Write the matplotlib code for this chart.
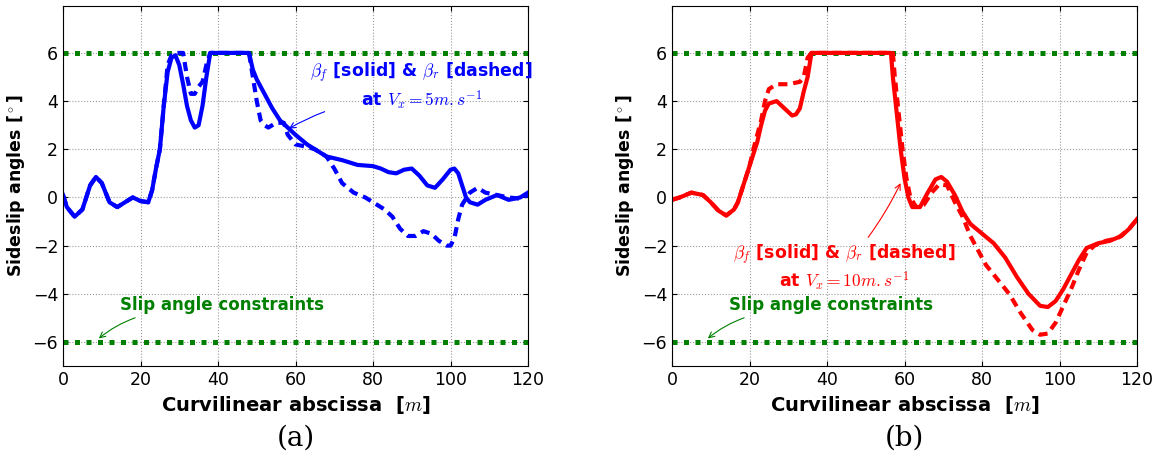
import numpy as np
import matplotlib
matplotlib.use('Agg')
from matplotlib import pyplot as plt

plt.rcParams['mathtext.fontset'] = 'cm'
plt.rcParams['font.family'] = 'DejaVu Sans'

# (a) Vx = 5 m/s
a_xf = [0, 1, 3, 5, 7, 8.5, 10, 12, 14, 16, 18, 20, 22, 23, 24, 25, 26, 27, 28, 29, 30, 31, 32, 33, 34, 35, 36, 37, 38,
        48, 49, 50, 52, 54, 56, 58, 60, 63, 66, 68, 72, 76, 80, 82, 84, 86, 88, 90, 92, 94, 96, 98, 100, 101, 102, 103,
        104, 105, 107, 109, 112, 115, 118, 120]
a_bf = [0.1, -0.4, -0.8, -0.5, 0.5, 0.85, 0.6, -0.2, -0.4, -0.2, 0.0, -0.15, -0.2, 0.3, 1.2, 2.0, 3.8, 5.2, 5.8, 5.9, 5.5,
        4.7, 3.8, 3.2, 2.9, 3.0, 3.8, 5.0, 6.0,
        6.0, 5.3, 4.9, 4.3, 3.7, 3.2, 2.9, 2.6, 2.2, 1.9, 1.7, 1.55, 1.35, 1.3, 1.2, 1.05, 1.0, 1.15, 1.2, 0.9, 0.5,
        0.4, 0.75, 1.15, 1.2, 1.0, 0.5, 0.0, -0.2, -0.3, -0.1, 0.1, -0.1, 0.0, 0.2]
a_xr = [0, 1, 3, 5, 7, 8.5, 10, 12, 14, 16, 18, 20, 22, 23, 24, 25, 26, 27, 28, 29, 31, 32, 33, 34, 35, 36, 37, 38,
        48, 49, 50, 51, 52, 53, 55, 57, 58, 60, 63, 65, 68, 70, 72, 75, 78, 80, 83, 85, 87, 89, 91, 93, 95, 97, 99,
        100, 101, 102, 103, 105, 107, 109, 112, 115, 118, 120]
a_br = [0.1, -0.4, -0.8, -0.5, 0.5, 0.85, 0.6, -0.2, -0.4, -0.2, 0.0, -0.15, -0.2, 0.3, 1.2, 2.0, 3.8, 5.5, 5.9, 6.0,
        6.0, 5.0, 4.3, 4.3, 4.6, 4.8, 5.5, 6.0,
        6.0, 5.0, 4.0, 3.2, 3.0, 2.9, 3.1, 3.1, 2.6, 2.2, 2.1, 2.0, 1.7, 1.2, 0.6, 0.2, 0.0, -0.2, -0.5, -0.8, -1.3,
        -1.6, -1.6, -1.4, -1.5, -1.8, -2.0, -2.0, -1.7, -0.9, -0.3, 0.2, 0.4, 0.2, 0.1, 0.0, -0.05, 0.1]

# (b) Vx = 10 m/s
b_xf = [0, 2, 5, 8, 10, 12, 14, 16, 17, 18, 19, 20, 22, 23, 24, 25, 27, 29, 31, 32, 33, 34, 35, 36, 56.5, 57, 58, 59,
        60, 61, 62, 64, 66, 68, 69.5, 71, 73, 75, 77, 80, 83, 86, 89, 92, 95, 97, 99, 101, 103, 105, 107, 110, 113,
        116, 118, 120]
b_bf = [-0.1, 0.0, 0.2, 0.1, -0.2, -0.55, -0.75, -0.5, -0.2, 0.3, 0.8, 1.3, 2.3, 3.0, 3.6, 3.9, 4.0, 3.7, 3.4, 3.45,
        3.7, 4.4, 5.0, 6.0, 6.0, 5.0, 3.5, 2.0, 0.8, 0.0, -0.4, -0.4, 0.2, 0.75, 0.85, 0.65, 0.1, -0.6, -1.1, -1.5,
        -1.9, -2.5, -3.3, -4.0, -4.5, -4.55, -4.3, -3.8, -3.2, -2.6, -2.1, -1.9, -1.8, -1.6, -1.3, -0.9]
b_xr = [0, 2, 5, 8, 10, 12, 14, 16, 17, 18, 19, 20, 21, 23, 24, 25, 27, 30, 33, 34, 35, 36, 57, 57.5, 58.5, 59.5,
        60.5, 61.5, 63, 65, 67, 69, 71, 73, 75, 77, 79, 81, 84, 87, 90, 93, 95, 97, 99, 101, 103, 105, 107, 109, 112,
        115, 118, 120]
b_br = [-0.1, 0.0, 0.2, 0.1, -0.2, -0.55, -0.75, -0.5, -0.2, 0.3, 0.8, 1.3, 2.0, 3.2, 4.0, 4.5, 4.7, 4.7, 4.8, 5.0,
        5.8, 6.0, 6.0, 5.0, 3.5, 2.0, 0.8, 0.0, -0.4, -0.3, 0.2, 0.55, 0.5, -0.2, -0.8, -1.6, -2.2, -2.8, -3.4, -4.0,
        -4.8, -5.5, -5.7, -5.65, -5.2, -4.5, -3.8, -3.0, -2.3, -2.0, -1.8, -1.7, -1.3, -0.9]

limits = [6, -6]

panels = [
    dict(xf=a_xf, bf=a_bf, xr=a_xr, br=a_br, color='b', tag='(a)', speed='5',
         txt=(92.5, 4.6), tail=(68.2, 3.6), head=(57.7, 2.8)),
    dict(xf=b_xf, bf=b_bf, xr=b_xr, br=b_br, color='r', tag='(b)', speed='10',
         txt=(44.5, -2.93), tail=(50.2, -1.75), head=(59.3, 0.7)),
]

fig = plt.figure(figsize=(11.6, 4.57), dpi=100)
lefts = [63 / 1160, 672 / 1160]

for left, p in zip(lefts, panels):
    ax = fig.add_axes([left, 0.199, 465 / 1160, 0.788])
    for lim in limits:
        ax.plot([0, 120], [lim, lim], color='g', lw=3.6, dashes=(1.0, 1.3), dash_capstyle='butt')
    ax.plot(p['xf'], p['bf'], color=p['color'], lw=3)
    ax.plot(p['xr'], p['br'], color=p['color'], lw=3, dashes=(2.2, 1.4))
    ax.set_xlim(0, 120)
    ax.set_ylim(-7, 7.95)
    ax.set_yticks([-6, -4, -2, 0, 2, 4, 6])
    ax.grid(True, color='0.6', linestyle=':', lw=0.8)
    ax.tick_params(labelsize=12.5, direction='in', top=True, right=True)
    ax.set_xlabel('Curvilinear abscissa  [$m$]', fontsize=14, fontweight='bold')
    ax.set_ylabel('Sideslip angles [$^\\circ$]', fontsize=12.5, fontweight='bold')

    ax.text(p['txt'][0], p['txt'][1],
            '$\\beta_f$ [solid] & $\\beta_r$ [dashed]\nat $V_x = ' + p['speed'] + 'm.s^{-1}$',
            color=p['color'], fontsize=12.5, fontweight='bold', ha='center', va='center',
            multialignment='center', linespacing=1.2)
    ax.annotate('', xy=p['head'], xytext=p['tail'],
                arrowprops=dict(arrowstyle='->', color=p['color'], lw=0.8,
                                connectionstyle='arc3,rad=0.05'))
    ax.text(41, -4.48, 'Slip angle constraints', color='g', fontsize=12,
            fontweight='bold', ha='center', va='center')
    ax.annotate('', xy=(8.7, -5.93), xytext=(19.3, -4.96),
                arrowprops=dict(arrowstyle='->', color='g', lw=0.8,
                                connectionstyle='arc3,rad=0.1'))
    fig.text(left + 465 / 1160 / 2, 0.042, p['tag'], ha='center', va='center',
             fontsize=20, family='serif', math_fontfamily='cm')

fig.savefig('out.png', dpi=100)
